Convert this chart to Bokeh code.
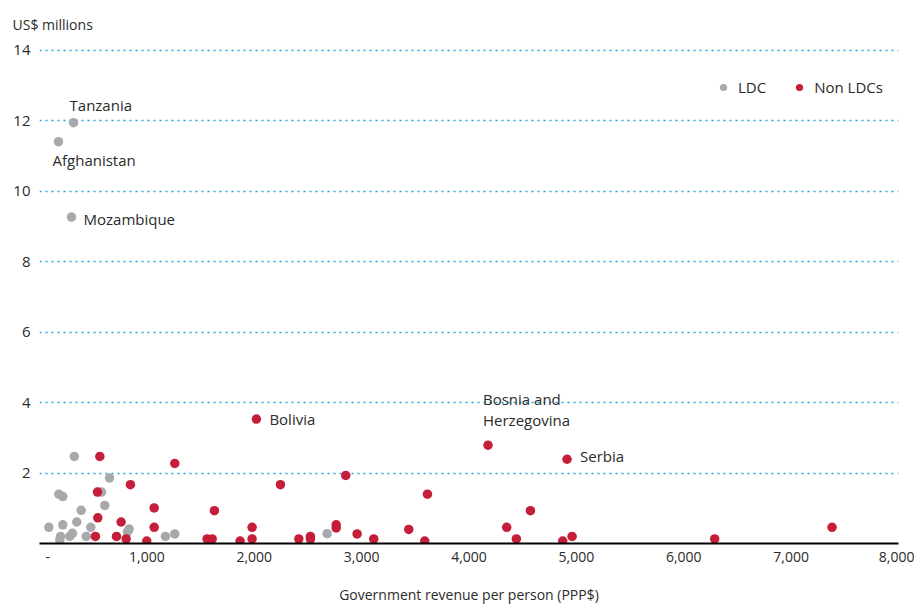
from bokeh.plotting import figure
from bokeh.models import ColumnDataSource, FixedTicker, Legend, LegendItem, NumeralTickFormatter
from bokeh.core.properties import value
from bokeh.embed import file_html
from bokeh.resources import INLINE

# LDC series (government revenue per person PPP$, US$ millions)
ldc_x = [317, 177, 298, 324, 652, 180, 217, 577, 608, 388, 347, 217, 87, 478, 307, 282, 196, 189, 435, 835, 819, 1173, 1260, 2679]
ldc_y = [11.94, 11.4, 9.26, 2.47, 1.86, 1.40, 1.33, 1.46, 1.08, 0.94, 0.61, 0.53, 0.46, 0.46, 0.29, 0.2, 0.2, 0.1, 0.2, 0.41, 0.33, 0.2, 0.27, 0.28]

# Non LDC series
non_x = [2020, 4177, 4913, 562, 1260, 847, 540, 2244, 1068, 1629, 543, 760, 1068, 1980, 521, 717, 807, 999, 1561, 1608,
         1868, 1980, 2852, 3613, 4572, 4351, 2763, 2763, 3439, 2958, 2415, 2523, 2523, 3113, 3588, 4441, 4873, 4960, 6288, 7381]
non_y = [3.53, 2.79, 2.39, 2.47, 2.27, 1.67, 1.46, 1.67, 1.01, 0.93, 0.73, 0.61, 0.46, 0.46, 0.2, 0.2, 0.13, 0.07, 0.13, 0.13,
         0.07, 0.13, 1.93, 1.40, 0.93, 0.46, 0.53, 0.44, 0.4, 0.27, 0.13, 0.2, 0.13, 0.13, 0.07, 0.13, 0.07, 0.2, 0.13, 0.46]

# Annotated countries: (name, series, index)
ann_names = ["Tanzania", "Afghanistan", "Mozambique", "Bolivia", "Bosnia and", "Herzegovina", "Serbia"]
ann_series = ["ldc", "ldc", "ldc", "non", "non", "non", "non"]
ann_index = [0, 1, 2, 0, 1, 1, 2]

x_ticks = [0, 1000, 2000, 3000, 4000, 5000, 6000, 7000, 8000]
y_ticks = [2, 4, 6, 8, 10, 12, 14]

FONT = "Open Sans"
TXT = "#2b2b2b"
GRAY = "#A7A9AC"
RED = "#C41E3A"

p = figure(width=914, height=606, x_range=(0, 8000), y_range=(0, 14.1),
           output_backend="svg", toolbar_location=None,
           min_border_top=46, min_border_left=39, min_border_right=16, min_border_bottom=0)
p.outline_line_color = None
p.background_fill_color = "white"
p.border_fill_color = "white"

# unit label as title
p.title.text = "US$ millions"
p.title.align = "left"
p.title.vertical_align = "top"
p.title.offset = -27
p.title.standoff = 22
p.title.text_font = FONT
p.title.text_font_size = "14px"
p.title.text_font_style = "normal"
p.title.text_color = TXT

# grid
p.xgrid.grid_line_color = None
p.ygrid.ticker = FixedTicker(ticks=y_ticks)
p.ygrid.grid_line_color = "#22A6DE"
p.ygrid.grid_line_dash = "2 4"
p.ygrid.grid_line_width = 1.5

# axes
p.xaxis.ticker = FixedTicker(ticks=x_ticks)
p.xaxis.formatter = NumeralTickFormatter(format="0,0")
p.xaxis.major_label_overrides = {0: "\u2002\u2002\u2009-"}
p.xaxis.axis_line_color = "black"
p.xaxis.axis_line_width = 1.8
p.xaxis.major_tick_line_color = None
p.xaxis.minor_tick_line_color = None
p.xaxis.major_tick_out = 0
p.xaxis.major_tick_in = 0
p.xaxis.major_label_text_font = FONT
p.xaxis.major_label_text_font_size = "14px"
p.xaxis.major_label_text_color = TXT
p.xaxis.major_label_standoff = 3
p.xaxis.axis_label = "Government revenue per person (PPP$)"
p.xaxis.axis_label_text_font = FONT
p.xaxis.axis_label_text_font_size = "14px"
p.xaxis.axis_label_text_font_style = "normal"
p.xaxis.axis_label_text_color = TXT
p.xaxis.axis_label_standoff = 16

p.yaxis.ticker = FixedTicker(ticks=y_ticks)
p.yaxis.axis_line_color = None
p.yaxis.major_tick_line_color = None
p.yaxis.minor_tick_line_color = None
p.yaxis.major_tick_out = 0
p.yaxis.major_tick_in = 0
p.yaxis.major_label_text_font = FONT
p.yaxis.major_label_text_font_size = "15px"
p.yaxis.major_label_text_color = TXT
p.yaxis.major_label_standoff = 9

src_ldc = ColumnDataSource(dict(x=ldc_x, y=ldc_y))
src_non = ColumnDataSource(dict(x=non_x, y=non_y))
r_ldc = p.scatter("x", "y", source=src_ldc, size=9.5, fill_color=GRAY, line_color=None)
r_non = p.scatter("x", "y", source=src_non, size=9.5, fill_color=RED, line_color=None)

# annotations
ax, ay = [], []
for s, i in zip(ann_series, ann_index):
    if s == "ldc":
        ax.append(ldc_x[i]); ay.append(ldc_y[i])
    else:
        ax.append(non_x[i]); ay.append(non_y[i])
xo = [-4, -6, 12, 13, -5, -5, 13]
yo = [-18, 18, 2, 0, -46, -25, -3]
src_ann = ColumnDataSource(dict(x=ax, y=ay, t=ann_names, xo=xo, yo=yo))
p.text("x", "y", text="t", source=src_ann, x_offset="xo", y_offset="yo",
       text_font=value(FONT), text_font_size="15px", text_color=TXT,
       text_align="left", text_baseline="middle")

legend = Legend(items=[LegendItem(label="LDC", renderers=[r_ldc]),
                       LegendItem(label="Non LDCs", renderers=[r_non])],
                orientation="horizontal", location=(675, 446))
legend.border_line_color = None
legend.background_fill_alpha = 0
legend.label_text_font = FONT
legend.label_text_font_size = "15px"
legend.label_text_color = TXT
legend.glyph_width = 18
legend.glyph_height = 18
legend.label_standoff = 6
legend.spacing = 24
legend.padding = 0
legend.margin = 0
p.add_layout(legend)

open("out.html", "w").write(file_html(p, INLINE))
